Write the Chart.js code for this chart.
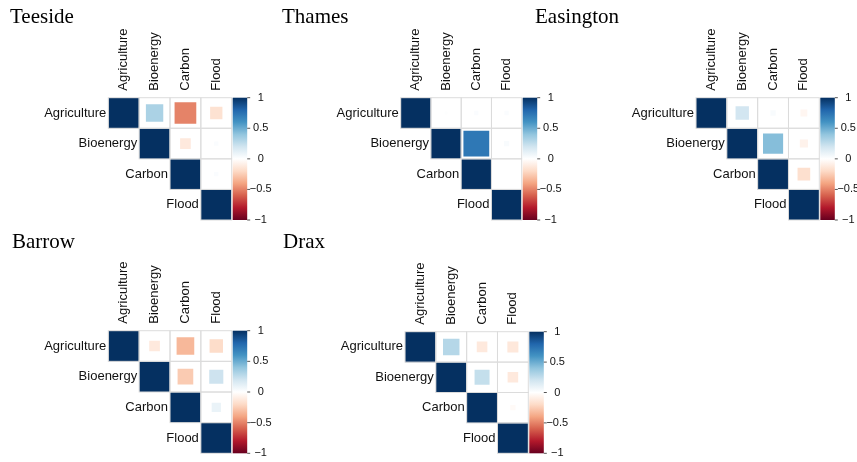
<!DOCTYPE html>
<html><head><meta charset="utf-8">
<script src="https://cdn.jsdelivr.net/npm/chart.js@4.4.1/dist/chart.umd.min.js"></script>
<style>
html,body{margin:0;padding:0;background:#fff;}
#wrap{position:relative;width:857px;height:462px;overflow:hidden;background:#fff;}
#wrap canvas{position:absolute;left:0;top:0;}
</style></head><body><div id="wrap"></div>
<script>
// ---- data ----
const variables = ["Agriculture", "Bioenergy", "Carbon", "Flood"];
const sites = ["Teeside", "Thames", "Easington", "Barrow", "Drax"];
// upper-triangle correlations in order: Ag-Bio, Ag-Carbon, Ag-Flood, Bio-Carbon, Bio-Flood, Carbon-Flood
const teeside   = [0.32, -0.50, -0.16, -0.12, 0.02, 0.02];
const thames    = [0.01, 0.02, 0.02, 0.72, 0.03, 0.00];
const easington = [0.19, 0.03, -0.05, 0.43, -0.07, -0.17];
const barrow    = [-0.12, -0.33, -0.19, -0.26, 0.21, 0.09];
const drax      = [0.29, -0.12, -0.13, 0.24, -0.12, -0.03];
const legendTicks  = [1, 0.5, 0, -0.5, -1];
const legendLabels = ["1", "0.5", "0", "\u22120.5", "\u22121"];
const paletteRdBu = ["#67001F","#B2182B","#D6604D","#F4A582","#FDDBC7","#FFFFFF","#D1E5F0","#92C5DE","#4393C3","#2166AC","#053061"];

// ---- layout (positions only) ----
const W = 857, H = 462;
const panels = [
  {name: sites[0], values: teeside,   title: [10, 23],  grid: [108.3, 97.7, 231.7, 220]},
  {name: sites[1], values: thames,    title: [282, 23], grid: [400.7, 97.7, 521.7, 220]},
  {name: sites[2], values: easington, title: [535, 23], grid: [696, 97.7, 819.3, 220]},
  {name: sites[3], values: barrow,    title: [12, 248], grid: [108.3, 330.7, 231.7, 453.3]},
  {name: sites[4], values: drax,      title: [283, 248], grid: [405, 331.7, 528.3, 453.3]}
];

function hexToRgb(h){return [parseInt(h.slice(1,3),16),parseInt(h.slice(3,5),16),parseInt(h.slice(5,7),16)];}
function rdbu(v){
  const n = paletteRdBu.length - 1;
  const t = (Math.max(-1, Math.min(1, v)) + 1) / 2 * n;
  const i = Math.min(Math.floor(t), n - 1), f = t - i;
  const a = hexToRgb(paletteRdBu[i]), b = hexToRgb(paletteRdBu[i+1]);
  return 'rgb(' + a.map((c,k)=>Math.round(c + (b[k]-c)*f)).join(',') + ')';
}

function cellSize(chart){
  const xs = chart.scales.x, ys = chart.scales.y;
  return {
    w: Math.abs(xs.getPixelForValue(2) - xs.getPixelForValue(1)),
    h: Math.abs(ys.getPixelForValue(2) - ys.getPixelForValue(1))
  };
}

const corrPlugin = {
  id: 'corr',
  afterDatasetsDraw(chart){
    const ctx = chart.ctx, xs = chart.scales.x, ys = chart.scales.y;
    const c = cellSize(chart);
    ctx.save();
    ctx.strokeStyle = '#dcdcdc';
    ctx.lineWidth = 1;
    for (let i = 0; i < variables.length; i++) {
      for (let j = i; j < variables.length; j++) {
        const cx = xs.getPixelForValue(j+1), cy = ys.getPixelForValue(i+1);
        ctx.strokeRect(cx - c.w/2, cy - c.h/2, c.w, c.h);
      }
    }
    ctx.restore();
  },
  afterDraw(chart){
    const p = chart.options.plugins.corr;
    const ctx = chart.ctx, xs = chart.scales.x, ys = chart.scales.y, ls = chart.scales.legend;
    const area = chart.chartArea;
    const c = cellSize(chart);
    ctx.save();
    // title
    ctx.fillStyle = '#000';
    ctx.font = '21px "Liberation Serif", "Times New Roman", serif';
    ctx.textAlign = 'left'; ctx.textBaseline = 'alphabetic';
    ctx.fillText(p.title, p.titlePos[0], p.titlePos[1]);
    // column labels
    ctx.font = '13px "Liberation Sans", Arial, sans-serif';
    ctx.fillStyle = '#111';
    variables.forEach((v, j) => {
      ctx.save();
      ctx.translate(xs.getPixelForValue(j+1), area.top - 7);
      ctx.rotate(-Math.PI/2);
      ctx.textAlign = 'left'; ctx.textBaseline = 'middle';
      ctx.fillText(v, 0, 0);
      ctx.restore();
    });
    // row labels (staggered, next to diagonal)
    ctx.textAlign = 'right'; ctx.textBaseline = 'middle';
    variables.forEach((v, i) => {
      ctx.fillText(v, xs.getPixelForValue(i+1) - c.w/2 - 2, ys.getPixelForValue(i+1));
    });
    // colour legend
    const x0 = area.right + 1, bw = 14.5;
    const top = ls.getPixelForValue(1), bot = ls.getPixelForValue(-1);
    const g = ctx.createLinearGradient(0, bot, 0, top);
    paletteRdBu.forEach((col, k) => g.addColorStop(k/(paletteRdBu.length-1), col));
    ctx.fillStyle = g;
    ctx.fillRect(x0, top, bw, bot - top);
    ctx.strokeStyle = '#555'; ctx.lineWidth = 1;
    ctx.font = '11px "Liberation Sans", Arial, sans-serif';
    ctx.fillStyle = '#111';
    ctx.textAlign = 'center'; ctx.textBaseline = 'middle';
    legendTicks.forEach((t, k) => {
      const y = ls.getPixelForValue(t);
      ctx.beginPath(); ctx.moveTo(x0 + bw, y); ctx.lineTo(x0 + bw + 3, y); ctx.stroke();
      ctx.fillText(legendLabels[k], x0 + bw + 13.5, y);
    });
    ctx.restore();
  }
};

const wrap = document.getElementById('wrap');
panels.forEach(p => {
  const cv = document.createElement('canvas');
  cv.width = W; cv.height = H;
  cv.style.width = W + 'px'; cv.style.height = H + 'px';
  wrap.appendChild(cv);
  const pts = [];
  let k = 0;
  for (let i = 0; i < variables.length; i++) {
    for (let j = i; j < variables.length; j++) {
      pts.push({x: j+1, y: i+1, v: i === j ? 1 : p.values[k++]});
    }
  }
  const [L, T, R, B] = p.grid;
  new Chart(cv, {
    type: 'scatter',
    data: {datasets: [{
      data: pts,
      pointStyle: 'rect',
      pointBorderWidth: 0,
      pointBackgroundColor: ctx => ctx.raw ? rdbu(ctx.raw.v) : '#fff',
      pointRadius: ctx => {
        if (!ctx.raw) return 0;
        const c = cellSize(ctx.chart);
        const side = (c.w + c.h)/2 * Math.sqrt(Math.abs(ctx.raw.v));
        return side / Math.SQRT2;
      },
      pointHoverRadius: ctx => {
        if (!ctx.raw) return 0;
        const c = cellSize(ctx.chart);
        return (c.w + c.h)/2 * Math.sqrt(Math.abs(ctx.raw.v)) / Math.SQRT2;
      }
    }]},
    options: {
      responsive: false,
      animation: false,
      events: [],
      layout: {padding: {left: L, top: T, right: W - R, bottom: H - B}},
      scales: {
        x: {type: 'linear', min: 0.5, max: 4.5, display: false},
        y: {type: 'linear', min: 0.5, max: 4.5, reverse: true, display: false},
        legend: {type: 'linear', axis: 'y', position: 'right', min: -1, max: 1, display: false}
      },
      plugins: {
        legend: {display: false},
        tooltip: {enabled: false},
        corr: {title: p.name, titlePos: p.title}
      }
    },
    plugins: [corrPlugin]
  });
});
</script></body></html>
